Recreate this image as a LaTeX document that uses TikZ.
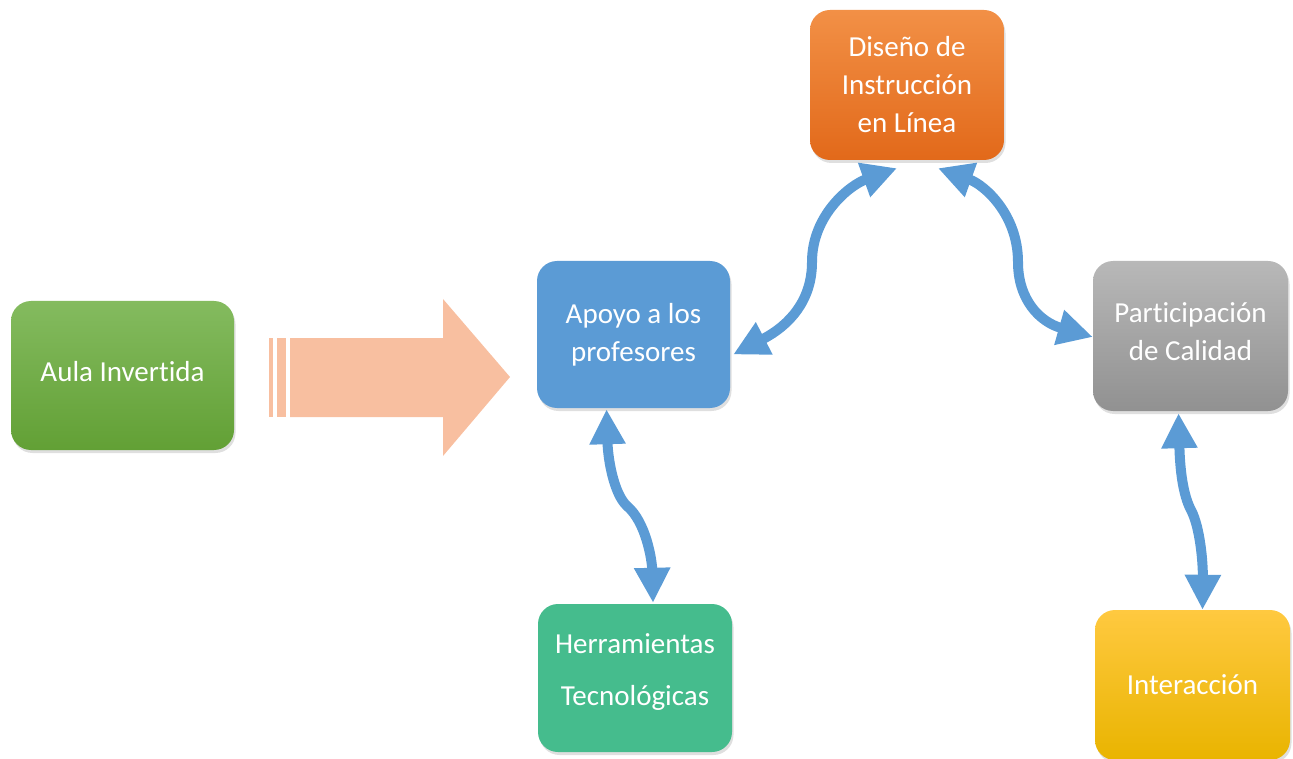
\documentclass[tikz,border=0pt]{standalone}
\usepackage{fontspec}
\setmainfont[Ligatures=NoCommon]{Carlito}
\usetikzlibrary{arrows.meta,shadows}
\definecolor{linkblue}{HTML}{5B9BD5}
\definecolor{greenT}{HTML}{84BB5F}
\definecolor{greenB}{HTML}{62A035}
\definecolor{orangeT}{HTML}{F29046}
\definecolor{orangeB}{HTML}{E2691A}
\definecolor{grayT}{HTML}{B8B8B8}
\definecolor{grayB}{HTML}{919191}
\definecolor{goldT}{HTML}{FFC940}
\definecolor{goldB}{HTML}{E9B400}
\definecolor{teal}{HTML}{45BC8D}
\definecolor{peach}{HTML}{F8BFA0}
\tikzset{
  box/.style={rounded corners=20pt, text=white, align=center,
    font=\fontsize{29}{38}\selectfont, inner sep=0pt,
    minimum width=194pt, minimum height=148pt,
    drop shadow={shadow xshift=1.5pt, shadow yshift=-3pt, opacity=0.25}},
  link/.style={draw=linkblue, line width=10pt,
    {Triangle[width=34pt,length=35pt]}-{Triangle[width=34pt,length=35pt]}},
}
\begin{document}
\begin{tikzpicture}[x=1pt,y=-1pt]
\useasboundingbox (0,0) rectangle (1293,759);
% nodes
\node[box, top color=greenT, bottom color=greenB, minimum width=223pt, minimum height=149pt] (aula) at (122.5,375.5) {Aula Invertida\\[-30pt]\mbox{}};
\node[box, fill=linkblue, minimum width=193pt, minimum height=147pt] (apoyo) at (633.5,334.5) {Apoyo a los\\profesores};
\node[box, top color=orangeT, bottom color=orangeB, minimum height=150pt] (diseno) at (907,85) {Diseño de\\Instrucción\\en Línea};
\node[box, top color=grayT, bottom color=grayB, minimum width=195pt, minimum height=150pt] (partic) at (1190.5,336) {Participación\\de Calidad\\[-30pt]\mbox{}};
\node[box, fill=teal, font=\fontsize{29}{52}\selectfont] (herr) at (635,678) {Herramientas\\Tecnológicas\\[-35pt]\mbox{}};
\node[box, top color=goldT, bottom color=goldB, minimum width=195pt, minimum height=150pt] (inter) at (1192.5,685) {Interacción};
% big arrow
\fill[peach] (269,338) rectangle (273,417);
\fill[peach] (277,338) rectangle (286,417);
\fill[peach] (290,338) -- (443,338) -- (443,299) -- (510,377) -- (443,456) -- (443,417) -- (290,417) -- cycle;
% connectors
\draw[link] ([shift={(3,20)}]apoyo.east) .. controls (790,325) and (812,300) .. (812,262)
  .. controls (812,215) and (850,185) .. ([shift={(-10,8)}]diseno.south);
\draw[link] ([shift={(31,8)}]diseno.south) .. controls (985,185) and (1018,215) .. (1018,262)
  .. controls (1018,300) and (1040,322) .. ([shift={(0,1)}]partic.west);
\draw[link] ([shift={(-27,1)}]apoyo.south) .. controls (608,460) and (614,494) .. (627,506)
  .. controls (646,522) and (652,560) .. ([shift={(18,-1)}]herr.north);
\draw[link] ([shift={(-12,2)}]partic.south) .. controls (1180,470) and (1183,495) .. (1191,510)
  .. controls (1200,527) and (1203,562) .. ([shift={(10,0)}]inter.north);
\end{tikzpicture}
\end{document}
